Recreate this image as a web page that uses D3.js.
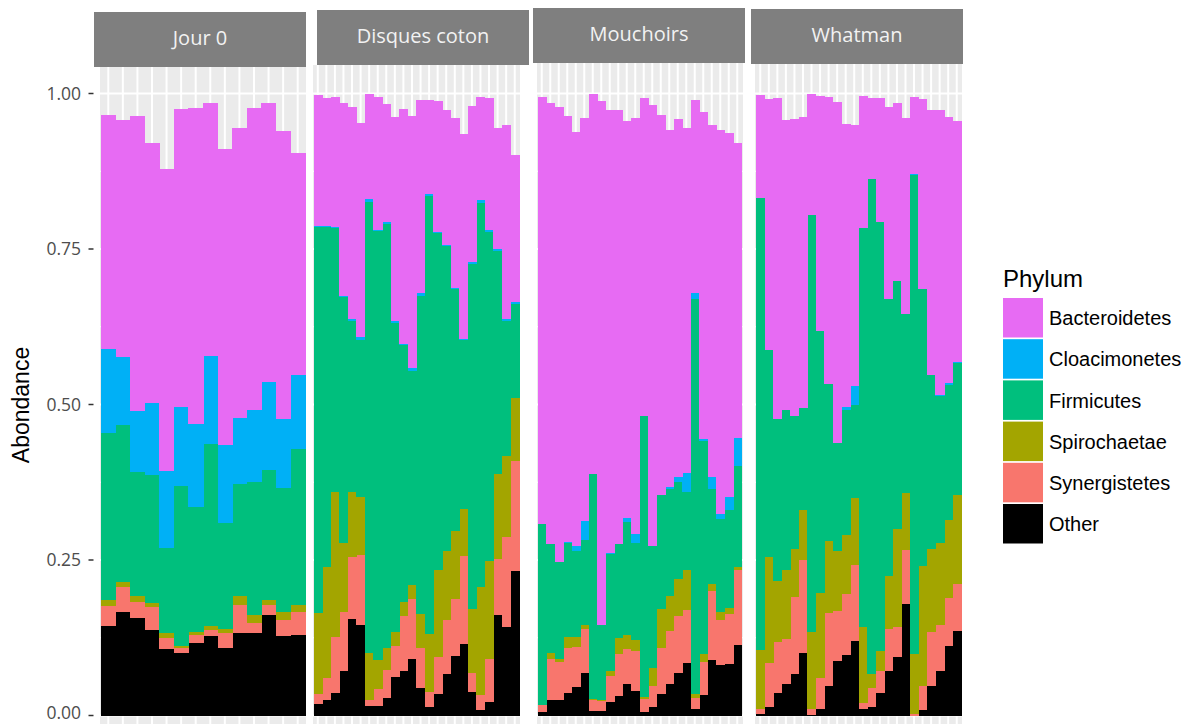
<!DOCTYPE html>
<html><head><meta charset="utf-8">
<script src="https://cdn.jsdelivr.net/npm/d3@7"></script>
<style>body{margin:0;background:#fff}svg{display:block}</style>
</head><body>
<svg id="chart" width="1193" height="724"></svg>
<script>
// ---- data ----
const facets = ["Jour 0", "Disques coton", "Mouchoirs", "Whatman"];
const phyla = ["Bacteroidetes", "Cloacimonetes", "Firmicutes", "Spirochaetae", "Synergistetes", "Other"];
const phylumColors = ["#E76BF3", "#00B0F6", "#00BF7D", "#A3A500", "#F8766D", "#000000"];
const yTicks = [0, 0.25, 0.5, 0.75, 1.0];
const yTickLabels = ["0.00", "0.25", "0.50", "0.75", "1.00"];

// Jour 0 (14 samples)
const jour0Bacteroidetes = [.376,.381,.475,.418,.486,.479,.509,.407,.476,.467,.486,.449,.462,.356];
const jour0Cloacimonetes = [.135,.109,.097,.116,.123,.127,.132,.142,.125,.106,.115,.142,.111,.119];
const jour0Firmicutes    = [.268,.252,.200,.206,.138,.258,.201,.292,.171,.180,.214,.209,.200,.252];
const jour0Spirochaetae  = [.010,.008,.010,.007,.007,.003,.006,.007,.006,.014,.014,.008,.012,.011];
const jour0Synergistetes = [.032,.040,.026,.037,.018,.007,.012,.009,.024,.045,.016,.015,.026,.037];
const jour0Other         = [.144,.167,.156,.137,.107,.101,.117,.128,.109,.133,.132,.162,.128,.129];

// Disques coton (24 samples)
const disquesBacteroidetes = [.210,.205,.210,.309,.340,.343,.169,.213,.190,.327,.378,.406,.310,.151,.210,.217,.273,.329,.251,.166,.212,.195,.312,.236];
const disquesCloacimonetes = [.002,.002,.002,.002,.004,.005,.005,.002,.003,.004,.002,.004,.004,.003,.002,.002,.002,.003,.003,.004,.002,.003,.003,.003];
const disquesFirmicutes    = [.621,.547,.424,.395,.275,.253,.725,.690,.682,.496,.412,.344,.512,.704,.542,.490,.389,.271,.554,.618,.530,.358,.217,.152];
const disquesSpirochaetae  = [.129,.177,.232,.112,.104,.093,.075,.046,.035,.023,.023,.023,.054,.093,.140,.111,.109,.075,.103,.173,.157,.138,.130,.101];
const disquesSynergistetes = [.017,.036,.091,.095,.100,.113,.010,.028,.045,.050,.089,.096,.065,.025,.060,.088,.093,.142,.031,.024,.070,.089,.145,.177];
const disquesOther         = [.018,.025,.036,.071,.155,.145,.015,.015,.028,.062,.071,.091,.044,.013,.034,.066,.095,.115,.038,.009,.021,.162,.142,.232];

// Mouchoirs (24 samples)
const mouchoirsBacteroidetes = [.687,.709,.732,.685,.666,.648,.611,.842,.712,.698,.637,.668,.512,.709,.611,.575,.576,.555,.309,.525,.566,.617,.584,.474];
const mouchoirsCloacimonetes = [0,0,0,.002,.007,.030,0,0,.001,0,.007,.015,0,0,.001,.003,.007,.030,.010,.003,.020,.008,.022,.045];
const mouchoirsFirmicutes    = [.291,.176,.156,.151,.139,.136,.362,.121,.189,.151,.181,.156,.452,.195,.183,.172,.156,.126,.635,.343,.152,.150,.157,.162];
const mouchoirsSpirochaetae  = [0,.009,.005,.017,.016,.007,.001,.002,.007,.026,.023,.017,.002,.029,.062,.056,.060,.064,.007,.013,.012,.012,.010,.005];
const mouchoirsSynergistetes = [.011,.066,.061,.073,.064,.071,.017,.016,.043,.068,.056,.065,.021,.035,.075,.086,.091,.085,.018,.053,.111,.073,.080,.121];
const mouchoirsOther         = [.006,.025,.025,.036,.046,.068,.008,.007,.021,.031,.051,.039,.006,.013,.034,.050,.069,.085,.010,.033,.089,.081,.083,.113];

// Whatman (24 samples)
const whatmanBacteroidetes = [.166,.404,.517,.466,.478,.467,.195,.378,.462,.548,.455,.421,.213,.131,.200,.309,.285,.314,.124,.305,.426,.458,.428,.387];
const whatmanCloacimonetes = [0,0,0,0,0,.001,0,0,0,0,.005,.029,0,0,0,0,0,0,.002,0,0,.002,.002,.002];
const whatmanFirmicutes    = [.727,.332,.260,.257,.214,.163,.671,.421,.252,.174,.201,.151,.641,.795,.689,.446,.399,.289,.770,.446,.280,.236,.217,.213];
const whatmanSpirochaetae  = [.094,.170,.098,.111,.077,.081,.124,.136,.116,.096,.094,.107,.122,.023,.033,.085,.158,.091,.097,.193,.132,.132,.126,.142];
const whatmanSynergistetes = [.008,.072,.082,.073,.123,.149,.009,.050,.117,.081,.099,.123,.009,.031,.035,.068,.048,.087,.002,.038,.087,.075,.077,.076];
const whatmanOther         = [.003,.013,.036,.050,.067,.101,.001,.011,.048,.087,.097,.119,.011,.013,.036,.071,.094,.179,0,.009,.048,.071,.112,.136];

// ---- build tables ----
const facetSeries = [
  [jour0Bacteroidetes, jour0Cloacimonetes, jour0Firmicutes, jour0Spirochaetae, jour0Synergistetes, jour0Other],
  [disquesBacteroidetes, disquesCloacimonetes, disquesFirmicutes, disquesSpirochaetae, disquesSynergistetes, disquesOther],
  [mouchoirsBacteroidetes, mouchoirsCloacimonetes, mouchoirsFirmicutes, mouchoirsSpirochaetae, mouchoirsSynergistetes, mouchoirsOther],
  [whatmanBacteroidetes, whatmanCloacimonetes, whatmanFirmicutes, whatmanSpirochaetae, whatmanSynergistetes, whatmanOther]
];

// ---- layout ----
const svg = d3.select("#chart");
const H = 724;
const y = d3.scaleLinear().domain([0, 1]).range([715.5, 93.5]);
const color = d3.scaleOrdinal().domain(phyla).range(phylumColors);

const panels = [
  {bg:[100, 306], bars:[101, 305], top:67, strip:{x:94, w:212, y:12, h:55}},
  {bg:[313, 520], bars:[313.5, 519], top:65, strip:{x:317, w:212, y:10, h:55}},
  {bg:[537, 743], bars:[537.5, 741.5], top:63, strip:{x:533, w:212, y:8, h:55}},
  {bg:[755, 962], bars:[756, 961], top:64, strip:{x:751, w:212, y:9, h:55}}
];

// stacking order bottom -> top: Other, Synergistetes, Spirochaetae, Firmicutes, Cloacimonetes, Bacteroidetes
const stackKeys = phyla.slice().reverse();

facets.forEach((fname, fi) => {
  const p = panels[fi];
  const series = facetSeries[fi];
  const n = series[0].length;
  const rows = d3.range(n).map(i => {
    const r = {sample: i};
    phyla.forEach((ph, k) => r[ph] = series[k][i]);
    return r;
  });
  const x = d3.scaleBand().domain(d3.range(n)).range(p.bars).padding(0);
  const g = svg.append("g");

  // panel background
  g.append("rect").attr("x", p.bg[0]).attr("y", p.top)
    .attr("width", p.bg[1] - p.bg[0]).attr("height", H - p.top).attr("fill", "#EBEBEB");

  // minor horizontal grid
  [0.125, 0.375, 0.625, 0.875].forEach(v => {
    g.append("line").attr("x1", p.bg[0]).attr("x2", p.bg[1])
      .attr("y1", y(v)).attr("y2", y(v)).attr("stroke", "#fff").attr("stroke-width", 1);
  });
  // major horizontal grid
  yTicks.forEach(v => {
    g.append("line").attr("x1", p.bg[0]).attr("x2", p.bg[1])
      .attr("y1", y(v)).attr("y2", y(v)).attr("stroke", "#fff").attr("stroke-width", 2);
  });
  // vertical grid
  x.domain().forEach(d => {
    const cx = x(d) + x.bandwidth() / 2;
    g.append("line").attr("x1", cx).attr("x2", cx).attr("y1", p.top).attr("y2", H)
      .attr("stroke", "#fff").attr("stroke-width", 2);
  });

  // stacked bars
  const stacked = d3.stack().keys(stackKeys)(rows);
  g.selectAll("g.layer").data(stacked).join("g")
    .attr("fill", d => color(d.key))
    .attr("shape-rendering", "crispEdges")
    .selectAll("rect").data(d => d).join("rect")
    .attr("x", d => x(d.data.sample))
    .attr("width", x.bandwidth() + 0.6)
    .attr("y", d => y(d[1]))
    .attr("height", d => Math.max(0, y(d[0]) - y(d[1])));

  // strip
  const s = p.strip;
  g.append("rect").attr("x", s.x).attr("y", s.y).attr("width", s.w).attr("height", s.h).attr("fill", "#7F7F7F");
  g.append("text").attr("x", s.x + s.w / 2).attr("y", s.y + s.h / 2 - 2).attr("dy", "0.35em")
    .attr("text-anchor", "middle").attr("font-family", "'Open Sans', sans-serif")
    .attr("font-size", 20).attr("fill", "#F2F2F2").text(fname);
});

// y axis
const ax = svg.append("g");
yTicks.forEach((v, i) => {
  ax.append("line").attr("x1", 88.5).attr("x2", 93.5).attr("y1", y(v)).attr("y2", y(v))
    .attr("stroke", "#333").attr("stroke-width", 1.5);
  ax.append("text").attr("x", 81).attr("y", y(v)).attr("dy", v === 0 ? 3 : 6)
    .attr("text-anchor", "end").attr("font-family", "'Open Sans', sans-serif")
    .attr("font-size", 17.5).attr("fill", "#4D4D4D").text(yTickLabels[i]);
});
svg.append("text").attr("transform", "translate(29,405) rotate(-90)")
  .attr("text-anchor", "middle").attr("font-family", "'Liberation Sans', Arial, sans-serif")
  .attr("font-size", 23).attr("fill", "#000").text("Abondance");

// legend
const lg = svg.append("g");
lg.append("text").attr("x", 1003).attr("y", 287).attr("font-family", "'Liberation Sans', Arial, sans-serif")
  .attr("font-size", 24).attr("fill", "#000").text("Phylum");
phyla.forEach((ph, i) => {
  const ky = 298 + i * 41.2;
  lg.append("rect").attr("x", 1003).attr("y", ky).attr("width", 40).attr("height", 39.5).attr("fill", color(ph));
  lg.append("text").attr("x", 1049).attr("y", ky + 20).attr("dy", "0.36em")
    .attr("font-family", "'Liberation Sans', Arial, sans-serif").attr("font-size", 20)
    .attr("fill", "#000").text(ph);
});
</script>
</body></html>
